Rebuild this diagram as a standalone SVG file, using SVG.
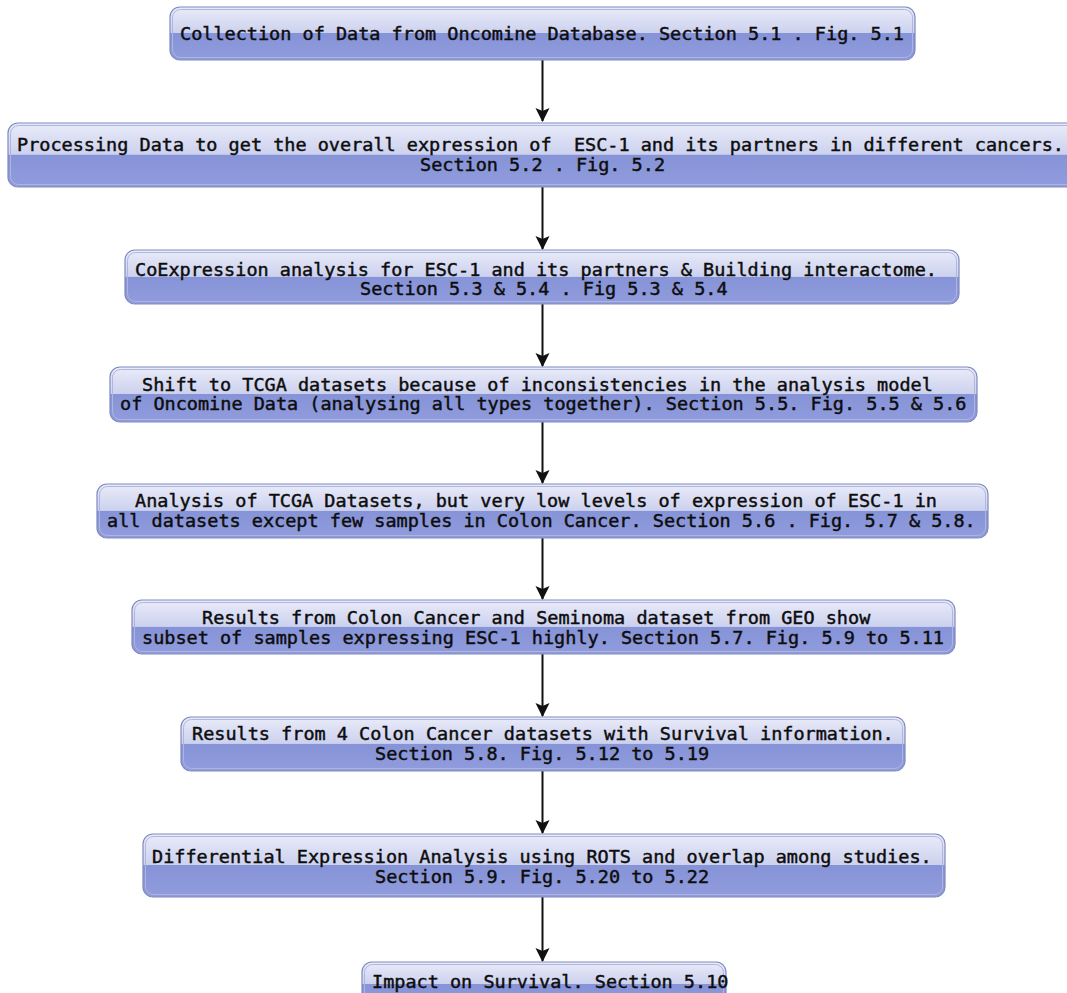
<svg xmlns="http://www.w3.org/2000/svg" width="1067" height="993" viewBox="0 0 1067 993">
<style>
.outer{fill:url(#g);stroke:#8089c0;stroke-width:1.2}
.inner{fill:none;stroke:#aeb6e0;stroke-width:1}
.t{font-family:"DejaVu Sans Mono","Liberation Mono",monospace;font-size:18.5px;fill:#0d0d0d;stroke:#0d0d0d;stroke-width:0.45;white-space:pre}
.c{stroke:#111;stroke-width:2;fill:none}
</style>
<defs>
<linearGradient id="g" x1="0" y1="0" x2="0" y2="1">
<stop offset="0" stop-color="#eaecf9"/>
<stop offset="0.49" stop-color="#ccd1ee"/>
<stop offset="0.5" stop-color="#8693d7"/>
<stop offset="1" stop-color="#909cdc"/>
</linearGradient>
<marker id="ah" markerWidth="14" markerHeight="16" refX="13" refY="7" orient="auto" markerUnits="userSpaceOnUse">
<path d="M0,0 L14,7 L0,14 L3,7 Z" fill="#111"/>
</marker>
</defs>
<rect width="1067" height="993" fill="#fff"/>
<g id="connectors">
<line class="c" x1="542.5" y1="60" x2="542.5" y2="121" marker-end="url(#ah)"/>
<line class="c" x1="542.5" y1="187" x2="542.5" y2="249" marker-end="url(#ah)"/>
<line class="c" x1="542.5" y1="304" x2="542.5" y2="366" marker-end="url(#ah)"/>
<line class="c" x1="542.5" y1="422" x2="542.5" y2="483" marker-end="url(#ah)"/>
<line class="c" x1="542.5" y1="538" x2="542.5" y2="599" marker-end="url(#ah)"/>
<line class="c" x1="542.5" y1="654" x2="542.5" y2="716" marker-end="url(#ah)"/>
<line class="c" x1="542.5" y1="771" x2="542.5" y2="833" marker-end="url(#ah)"/>
<line class="c" x1="542.5" y1="897" x2="542.5" y2="961" marker-end="url(#ah)"/>
</g>
<g id="n1">
<rect class="outer" x="170" y="7" width="745" height="53" rx="10"/>
<rect class="inner" x="172.5" y="9.5" width="740" height="48" rx="8"/>
<text class="t" x="180" y="39.5">Collection of Data from Oncomine Database. Section 5.1 . Fig. 5.1</text>
</g>
<g id="n2">
<rect class="outer" x="8" y="123" width="1070" height="64" rx="10"/>
<rect class="inner" x="10.5" y="125.5" width="1065" height="59" rx="8"/>
<text class="t" x="17" y="151">Processing Data to get the overall expression of  ESC-1 and its partners in different cancers.</text>
<text class="t" x="420" y="170.5">Section 5.2 . Fig. 5.2</text>
</g>
<g id="n3">
<rect class="outer" x="125" y="250" width="834" height="54" rx="10"/>
<rect class="inner" x="127.5" y="252.5" width="829" height="49" rx="8"/>
<text class="t" x="135" y="275.5">CoExpression analysis for ESC-1 and its partners &amp; Building interactome.</text>
<text class="t" x="360" y="294.5">Section 5.3 &amp; 5.4 . Fig 5.3 &amp; 5.4</text>
</g>
<g id="n4">
<rect class="outer" x="110" y="367" width="867" height="55" rx="10"/>
<rect class="inner" x="112.5" y="369.5" width="862" height="50" rx="8"/>
<text class="t" x="142" y="390.5">Shift to TCGA datasets because of inconsistencies in the analysis model</text>
<text class="t" x="120" y="410">of Oncomine Data (analysing all types together). Section 5.5. Fig. 5.5 &amp; 5.6</text>
</g>
<g id="n5">
<rect class="outer" x="97" y="484" width="891" height="54" rx="10"/>
<rect class="inner" x="99.5" y="486.5" width="886" height="49" rx="8"/>
<text class="t" x="135" y="506.5">Analysis of TCGA Datasets, but very low levels of expression of ESC-1 in</text>
<text class="t" x="107" y="526.5">all datasets except few samples in Colon Cancer. Section 5.6 . Fig. 5.7 &amp; 5.8.</text>
</g>
<g id="n6">
<rect class="outer" x="132" y="600" width="823" height="54" rx="10"/>
<rect class="inner" x="134.5" y="602.5" width="818" height="49" rx="8"/>
<text class="t" x="202" y="623.5">Results from Colon Cancer and Seminoma dataset from GEO show</text>
<text class="t" x="142" y="643.5">subset of samples expressing ESC-1 highly. Section 5.7. Fig. 5.9 to 5.11</text>
</g>
<g id="n7">
<rect class="outer" x="181" y="717" width="724" height="54" rx="10"/>
<rect class="inner" x="183.5" y="719.5" width="719" height="49" rx="8"/>
<text class="t" x="192" y="740">Results from 4 Colon Cancer datasets with Survival information.</text>
<text class="t" x="375" y="760">Section 5.8. Fig. 5.12 to 5.19</text>
</g>
<g id="n8">
<rect class="outer" x="143" y="834" width="802" height="63" rx="10"/>
<rect class="inner" x="145.5" y="836.5" width="797" height="58" rx="8"/>
<text class="t" x="152" y="862.5">Differential Expression Analysis using ROTS and overlap among studies.</text>
<text class="t" x="375" y="882.5">Section 5.9. Fig. 5.20 to 5.22</text>
</g>
<g id="n9">
<rect class="outer" x="362" y="962" width="364" height="44" rx="10"/>
<rect class="inner" x="364.5" y="964.5" width="359" height="39" rx="8"/>
<text class="t" x="372" y="987.5">Impact on Survival. Section 5.10</text>
</g>
</svg>
